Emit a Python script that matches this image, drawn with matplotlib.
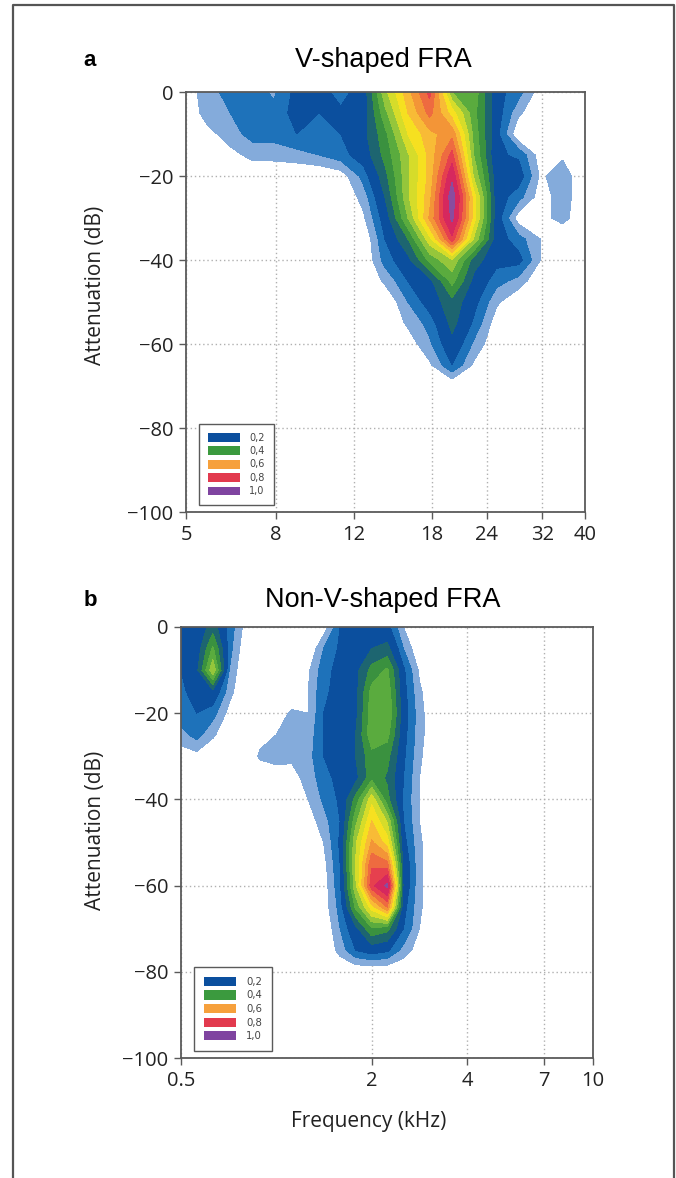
import numpy as np
import matplotlib
matplotlib.use("Agg")
import matplotlib.pyplot as plt
from matplotlib.patches import Patch
from matplotlib.lines import Line2D

# response grid, panel a (V-shaped): rows = attenuation, cols = frequency
freq_a = [5.0, 5.6, 6.3, 7.1, 7.9, 8.9, 10.0, 11.2, 12.6, 14.1, 15.9, 17.8,
          20.0, 22.4, 25.2, 28.3, 31.7, 35.6, 40.0]
atten_a = [0, -5, -10, -15, -20, -25, -30, -35, -40, -45, -50, -55, -60, -65, -70]
resp_a = [
    [0.02, 0.08, 0.12, 0.12, 0.09, 0.17, 0.17, 0.13, 0.18, 0.44, 0.62, 0.78, 0.40, 0.38, 0.17, 0.12, 0.02, 0, 0],
    [0, 0.08, 0.10, 0.12, 0.12, 0.17, 0.15, 0.16, 0.18, 0.38, 0.58, 0.72, 0.55, 0.36, 0.18, 0.06, 0, 0, 0],
    [0, 0.03, 0.08, 0.12, 0.12, 0.15, 0.13, 0.15, 0.20, 0.32, 0.52, 0.62, 0.68, 0.38, 0.17, 0.0, 0, 0, 0],
    [0, 0, 0.03, 0.07, 0.07, 0.08, 0.10, 0.13, 0.18, 0.30, 0.45, 0.60, 0.78, 0.40, 0.16, 0.14, 0.02, 0.04, 0],
    [0, 0, 0, 0, 0, 0, 0, 0.02, 0.12, 0.26, 0.45, 0.60, 0.88, 0.45, 0.18, 0.18, 0.04, 0.08, 0],
    [0, 0, 0, 0, 0, 0, 0, 0, 0.07, 0.22, 0.45, 0.62, 0.95, 0.55, 0.18, 0.12, 0.02, 0.08, 0],
    [0, 0, 0, 0, 0, 0, 0, 0, 0.04, 0.18, 0.40, 0.65, 0.92, 0.55, 0.18, 0.02, 0.03, 0.07, 0],
    [0, 0, 0, 0, 0, 0, 0, 0, 0, 0.15, 0.28, 0.50, 0.80, 0.45, 0.18, 0.12, 0.05, 0, 0],
    [0, 0, 0, 0, 0, 0, 0, 0, 0, 0.12, 0.20, 0.36, 0.45, 0.25, 0.17, 0.17, 0.05, 0, 0],
    [0, 0, 0, 0, 0, 0, 0, 0, 0, 0.06, 0.15, 0.20, 0.36, 0.20, 0.12, 0.08, 0, 0, 0],
    [0, 0, 0, 0, 0, 0, 0, 0, 0, 0, 0.10, 0.18, 0.26, 0.17, 0.06, 0, 0, 0, 0],
    [0, 0, 0, 0, 0, 0, 0, 0, 0, 0, 0.06, 0.12, 0.24, 0.14, 0.02, 0, 0, 0, 0],
    [0, 0, 0, 0, 0, 0, 0, 0, 0, 0, 0.02, 0.09, 0.20, 0.09, 0, 0, 0, 0, 0],
    [0, 0, 0, 0, 0, 0, 0, 0, 0, 0, 0, 0.04, 0.15, 0.04, 0, 0, 0, 0, 0],
    [0, 0, 0, 0, 0, 0, 0, 0, 0, 0, 0, 0, 0, 0, 0, 0, 0, 0, 0],
]

# panel b (non-V-shaped)
freq_b = [0.50, 0.56, 0.63, 0.71, 0.79, 0.89, 1.00, 1.12, 1.26, 1.41, 1.59, 1.78,
          2.00, 2.24, 2.52, 2.83, 3.17, 3.56, 4.00]
atten_b = [0, -5, -10, -15, -20, -25, -30, -35, -40, -45, -50, -55, -60, -65, -70, -75, -80]
resp_b = [
    [0.15, 0.17, 0.25, 0.13, 0.04, 0, 0, 0, 0, 0.02, 0.15, 0.18, 0.20, 0.17, 0.05, 0, 0, 0, 0],
    [0.16, 0.18, 0.35, 0.12, 0.02, 0, 0, 0, 0, 0.10, 0.16, 0.18, 0.22, 0.24, 0.10, 0, 0, 0, 0],
    [0.15, 0.20, 0.45, 0.10, 0, 0, 0, 0, 0.04, 0.13, 0.17, 0.20, 0.30, 0.35, 0.16, 0.04, 0, 0, 0],
    [0.14, 0.17, 0.20, 0.07, 0, 0, 0, 0, 0.05, 0.14, 0.17, 0.20, 0.36, 0.38, 0.17, 0.06, 0, 0, 0],
    [0.13, 0.15, 0.12, 0.03, 0, 0, 0.02, 0.06, 0.05, 0.15, 0.18, 0.20, 0.38, 0.40, 0.18, 0.07, 0, 0, 0],
    [0.08, 0.12, 0.06, 0, 0, 0.03, 0.05, 0.07, 0.07, 0.15, 0.18, 0.22, 0.38, 0.36, 0.17, 0.07, 0, 0, 0],
    [0.02, 0.03, 0, 0, 0, 0.06, 0.07, 0.06, 0.08, 0.15, 0.17, 0.22, 0.32, 0.30, 0.16, 0.06, 0, 0, 0],
    [0, 0, 0, 0, 0, 0, 0.02, 0.03, 0.07, 0.13, 0.17, 0.20, 0.32, 0.27, 0.15, 0.05, 0, 0, 0],
    [0, 0, 0, 0, 0, 0, 0, 0, 0.05, 0.11, 0.16, 0.30, 0.50, 0.30, 0.14, 0.05, 0, 0, 0],
    [0, 0, 0, 0, 0, 0, 0, 0, 0.02, 0.08, 0.15, 0.38, 0.58, 0.45, 0.15, 0.05, 0, 0, 0],
    [0, 0, 0, 0, 0, 0, 0, 0, 0, 0.05, 0.16, 0.45, 0.65, 0.55, 0.17, 0.06, 0, 0, 0],
    [0, 0, 0, 0, 0, 0, 0, 0, 0, 0.03, 0.15, 0.46, 0.75, 0.72, 0.20, 0.06, 0, 0, 0],
    [0, 0, 0, 0, 0, 0, 0, 0, 0, 0.02, 0.14, 0.45, 0.80, 0.92, 0.20, 0.06, 0, 0, 0],
    [0, 0, 0, 0, 0, 0, 0, 0, 0, 0.02, 0.12, 0.35, 0.55, 0.70, 0.17, 0.06, 0, 0, 0],
    [0, 0, 0, 0, 0, 0, 0, 0, 0, 0, 0.10, 0.20, 0.33, 0.30, 0.15, 0.05, 0, 0, 0],
    [0, 0, 0, 0, 0, 0, 0, 0, 0, 0, 0.07, 0.15, 0.18, 0.16, 0.08, 0.02, 0, 0, 0],
    [0, 0, 0, 0, 0, 0, 0, 0, 0, 0, 0, 0, 0, 0, 0, 0, 0, 0, 0],
]

xticks_a = [5, 8, 12, 18, 24, 32, 40]
xticks_b = [0.5, 2, 4, 7, 10]
yticks = [0, -20, -40, -60, -80, -100]
legend_labels = ["0,2", "0,4", "0,6", "0,8", "1,0"]
legend_colors = ["#0b4f9e", "#3b9a3e", "#f6a03c", "#e23a4e", "#7f44a0"]

levels = [0.05, 0.1, 0.15, 0.22, 0.28, 0.34, 0.4, 0.46, 0.52, 0.58,
          0.64, 0.7, 0.76, 0.82, 0.9, 1.01]
band_colors = ["#84abdb", "#1e72ba", "#0b4f9e", "#1d6570", "#3a913f",
               "#5aab3e", "#95c63b", "#d6dc2a", "#f6e020", "#f8bb36",
               "#f39537", "#ee6b40", "#e6404e", "#d6285e", "#8a4c9e"]

W, H = 676, 1178
fig = plt.figure(figsize=(W / 100, H / 100), dpi=100)

tick_font = ["Open Sans", "DejaVu Sans"]
gray = "#5a5a5a"


def panel(rect, freq, atten, resp, xticks, xlim, legsize, legpad):
    ax = fig.add_axes([rect[0] / W, 1 - rect[3] / H, (rect[2] - rect[0]) / W,
                       (rect[3] - rect[1]) / H])
    ax.set_xscale("log")
    ax.contourf(freq, atten, np.array(resp), levels=levels, colors=band_colors)
    ax.set_xlim(*xlim)
    ax.set_ylim(-100, 0)
    ax.set_xticks(xticks, [("%g" % t) for t in xticks])
    ax.xaxis.set_minor_locator(matplotlib.ticker.NullLocator())
    ax.set_yticks(yticks, ["0" if t == 0 else "\u2212%d" % -t for t in yticks])
    ax.set_axisbelow(True)
    ax.grid(True, ls=(0, (1, 2)), color="#b0b0b0", lw=1)
    for s in ax.spines.values():
        s.set_color(gray)
        s.set_linewidth(1.3)
    ax.tick_params(direction="out", length=5, width=1, color=gray,
                   labelsize=14.5, pad=4)
    for lab in ax.get_xticklabels() + ax.get_yticklabels():
        lab.set_fontfamily(tick_font)
        lab.set_color("#222222")
    handles = [Patch(facecolor=c, edgecolor="none") for c in legend_colors]
    leg = ax.legend(handles, legend_labels, loc="lower left",
                    bbox_to_anchor=(0.02, 0.005), fontsize=legsize,
                    handlelength=3.3 * 7 / legsize, handleheight=1.0,
                    labelspacing=0.35, handletextpad=1.0, borderpad=legpad,
                    fancybox=False, framealpha=1)
    leg.get_frame().set_edgecolor(gray)
    leg.get_frame().set_linewidth(1)
    for t in leg.get_texts():
        t.set_color("#444444")
    return ax


ax_a = panel((186, 92, 585, 512), freq_a, atten_a, resp_a, xticks_a, (5, 40), 7, 0.9)
ax_b = panel((181, 627, 593, 1058), freq_b, atten_b, resp_b, xticks_b, (0.5, 10), 7.3, 0.95)

# titles and labels
title_font = ["Liberation Sans", "DejaVu Sans"]
fig.text(383 / W, 1 - 60 / H, "V-shaped FRA", ha="center", va="center",
         fontsize=19.5, family=title_font)
fig.text(383 / W, 1 - 600 / H, "Non-V-shaped FRA", ha="center", va="center",
         fontsize=19.5, family=title_font)
fig.text(90 / W, 1 - 61 / H, "a", ha="center", va="center", fontsize=16,
         fontweight="bold", family=title_font)
fig.text(90 / W, 1 - 601 / H, "b", ha="center", va="center", fontsize=16,
         fontweight="bold", family=title_font)
fig.text(96 / W, 1 - 285 / H, "Attenuation (dB)", rotation=90, ha="center",
         va="center", fontsize=15, family=tick_font, color="#222222")
fig.text(96 / W, 1 - 830 / H, "Attenuation (dB)", rotation=90, ha="center",
         va="center", fontsize=15, family=tick_font, color="#222222")
fig.text(369 / W, 1 - 1122 / H, "Frequency (kHz)", ha="center", va="center",
         fontsize=15, family=tick_font, color="#222222")

# outer frame (open at the bottom)
fx0, fx1, fy1 = 12.5 / W, 674 / W, 1 - 5 / H
fig.add_artist(Line2D([fx0, fx0, fx1, fx1], [0, fy1, fy1, 0],
                      transform=fig.transFigure, color="#555555", lw=1.6))

fig.savefig("out.png", dpi=100)
